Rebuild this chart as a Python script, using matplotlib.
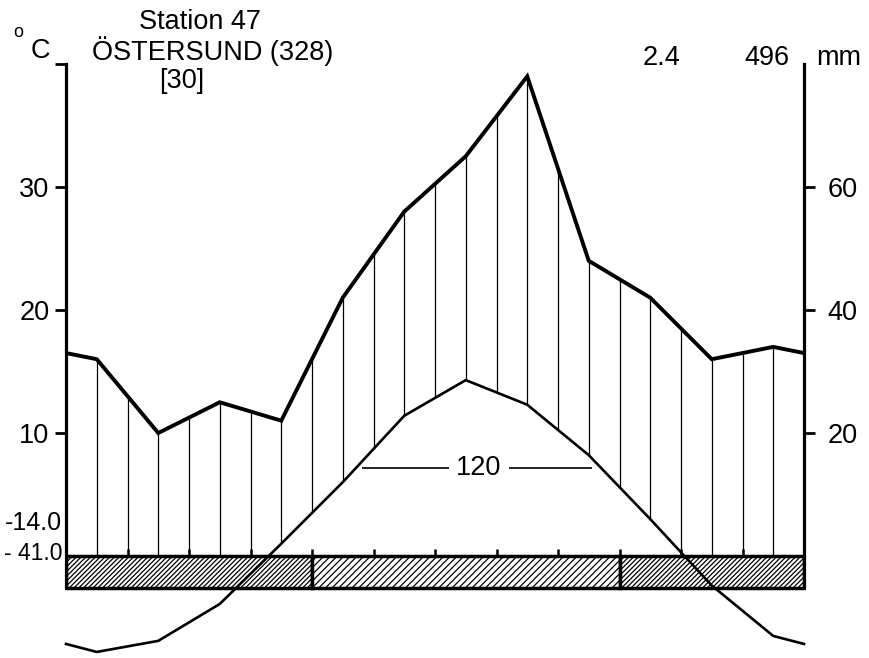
import numpy as np
import matplotlib
matplotlib.use("Agg")
import matplotlib.pyplot as plt
from matplotlib.patches import Rectangle

# ---------------- data ----------------
month_centers = np.arange(12) + 0.5
temp_c = [-7.8, -6.9, -3.9, 1.0, 6.0, 11.4, 14.3, 12.3, 8.2, 3.0, -2.4, -6.5]
precip_mm = [32, 20, 25, 22, 42, 56, 65, 78, 48, 42, 32, 34]
left_ticks = [10, 20, 30, 40]
left_labels = ["10", "20", "30", ""]
right_ticks = [20, 40, 60]
right_labels = ["20", "40", "60"]
station_lines = ["Station 47", "ÖSTERSUND (328)", "[30]"]
mean_temp = "2.4"
annual_precip = "496"
min_labels = ["-14.0", "- 41.0"]
frost_free_days = "120"
frost_starts = [0, 4, 9]
frost_ends = [4, 9, 12]
frost_hatch = ["///////", "/////", "///////"]

plt.rcParams['font.family'] = ['Liberation Sans', 'DejaVu Sans']
plt.rcParams['hatch.linewidth'] = 0.9

W, H = 869, 658
fig = plt.figure(figsize=(W / 100, H / 100), dpi=100)
fig.patch.set_facecolor('white')

x0px, x1px = 66, 804
y0px = 556
ppd = 12.3
ymin, ymax = -8.3, 42
bot_px = y0px - ppd * ymin
top_px = y0px - ppd * ymax
ax = fig.add_axes([x0px / W, (H - bot_px) / H, (x1px - x0px) / W, (bot_px - top_px) / H])
ax.set_xlim(0, 12)
ax.set_ylim(ymin, ymax)
ax.patch.set_alpha(0)
ax2 = ax.twinx()
ax2.set_ylim(2 * ymin, 2 * ymax)

bar_depth = 2.6

for a in (ax, ax2):
    for s in ('top', 'bottom'):
        a.spines[s].set_visible(False)
    a.set_xticks([])
ax.spines['right'].set_visible(False)
ax2.spines['left'].set_visible(False)
ax.spines['left'].set_bounds(-bar_depth, 40)
ax.spines['left'].set_linewidth(2.3)
ax2.spines['right'].set_bounds(-2 * bar_depth, 80)
ax2.spines['right'].set_linewidth(2.3)

ax.set_yticks(left_ticks)
ax.set_yticklabels(left_labels)
ax.tick_params(axis='y', direction='out', length=8, width=2, labelsize=19.5, pad=4)
ax2.set_yticks(right_ticks)
ax2.set_yticklabels(right_labels)
ax2.tick_params(axis='y', direction='out', length=8, width=2, labelsize=19.5, pad=9)

# extended (wrap-around) curves
t = np.array(temp_c)
p = np.array(precip_mm, dtype=float)
xe = np.concatenate([[0], month_centers, [12]])
te = np.concatenate([[(t[-1] + t[0]) / 2], t, [(t[-1] + t[0]) / 2]])
pe = np.concatenate([[(p[-1] + p[0]) / 2], p, [(p[-1] + p[0]) / 2]])

# humid hatching
xs = np.arange(1, 24) * 0.5
top = np.interp(xs, xe, pe)
bottom = np.maximum(np.interp(xs, xe, te) * 2, 0)
ax2.vlines(xs, bottom, top, colors='black', lw=0.9, zorder=2)

# precipitation line
ax2.plot(xe, pe, color='black', lw=2.8, solid_joinstyle='miter', zorder=3)

# frost bar
for s, e, h in zip(frost_starts, frost_ends, frost_hatch):
    ax.add_patch(Rectangle((s, -bar_depth), e - s, bar_depth, facecolor='white',
                           edgecolor='black', hatch=h, lw=2.5, zorder=2))
ax.vlines(np.arange(1, 12), 0, 0.55, colors='black', lw=1.8, zorder=2)

# temperature line
ax.plot(xe, te, color='black', lw=1.9, zorder=4, clip_on=False)

# frost-free period label
ax.hlines(7.15, 4.81, 6.22, colors='black', lw=1.2)
ax.hlines(7.15, 7.2, 8.55, colors='black', lw=1.2)
ax.text(6.71, 7.15, frost_free_days, ha='center', va='center', fontsize=19.5)

def ftext(xpx, ypx, s, **kw):
    fig.text(xpx / W, 1 - ypx / H, s, **kw)

ftext(200, 29, station_lines[0], ha='center', va='baseline', fontsize=19.5)
ftext(213, 60, station_lines[1], ha='center', va='baseline', fontsize=19.5)
ftext(182, 88, station_lines[2], ha='center', va='baseline', fontsize=19.5)
ftext(18, 37, "o", ha='center', va='baseline', fontsize=13)
ftext(40, 58, "C", ha='center', va='baseline', fontsize=19.5)
ftext(662, 65, mean_temp, ha='center', va='baseline', fontsize=19.5)
ftext(767, 65, annual_precip, ha='center', va='baseline', fontsize=19.5)
ftext(839, 65, "mm", ha='center', va='baseline', fontsize=19.5)
ftext(62, 530, min_labels[0], ha='right', va='baseline', fontsize=18)
ftext(62, 560, min_labels[1], ha='right', va='baseline', fontsize=16.5)

fig.savefig("out.png", dpi=100, facecolor='white')
